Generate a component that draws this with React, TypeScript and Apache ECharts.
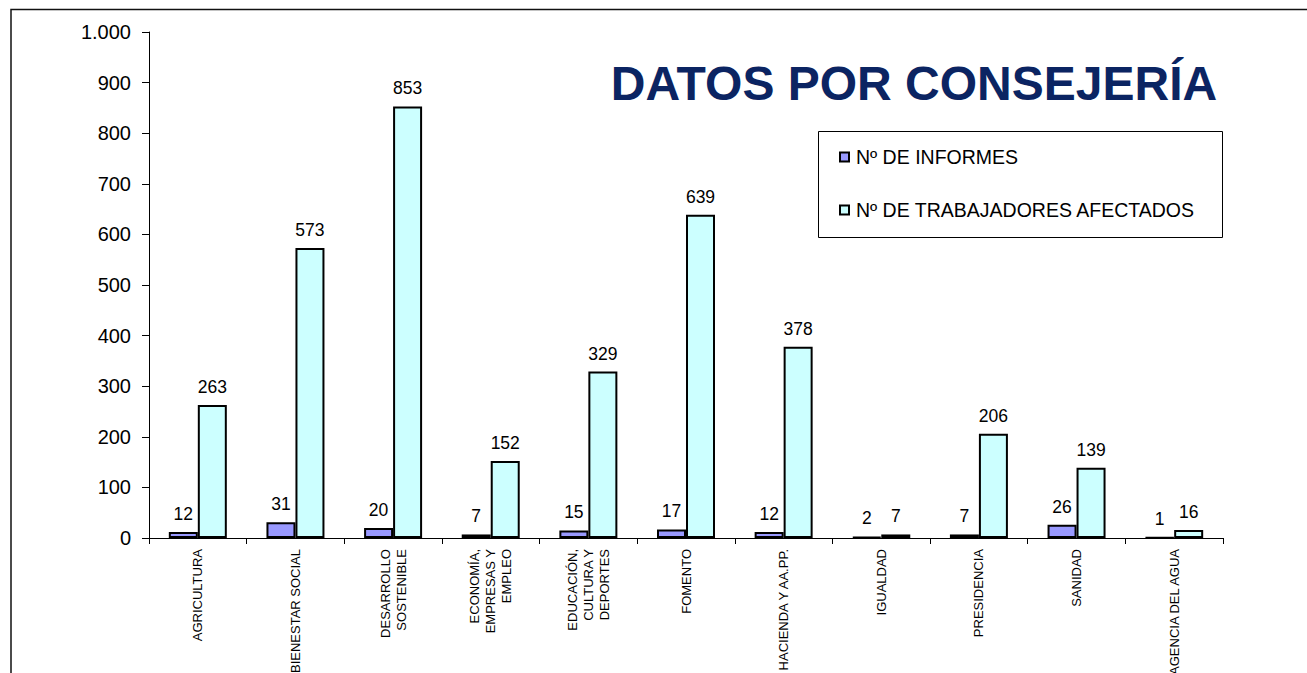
import React, { useEffect, useRef } from "react";
import * as echarts from "echarts";

const categories = [
  "AGRICULTURA",
  "BIENESTAR SOCIAL",
  "DESARROLLO\nSOSTENIBLE",
  "ECONOMÍA,\nEMPRESAS Y\nEMPLEO",
  "EDUCACIÓN,\nCULTURA Y\nDEPORTES",
  "FOMENTO",
  "HACIENDA Y AA.PP.",
  "IGUALDAD",
  "PRESIDENCIA",
  "SANIDAD",
  "AGENCIA DEL AGUA",
];
const informes = [12, 31, 20, 7, 15, 17, 12, 2, 7, 26, 1];
const trabajadores = [263, 573, 853, 152, 329, 639, 378, 7, 206, 139, 16];
const seriesNames = ["Nº DE INFORMES", "Nº DE TRABAJADORES AFECTADOS"];
const titleText = "DATOS POR CONSEJERÍA";

const FONT = "'Liberation Sans', Arial, sans-serif";

export default function App() {
  const ref = useRef<HTMLDivElement>(null);
  useEffect(() => {
    if (!ref.current) return;
    const chart = echarts.init(ref.current, null, { renderer: "svg" });
    const barLabel = {
      show: true,
      position: "top",
      distance: 9,
      color: "#000",
      fontSize: 17.5,
      fontFamily: FONT,
    };
    chart.setOption({
      animation: false,
      backgroundColor: "#fff",
      textStyle: { fontFamily: FONT },
      grid: {
        left: 149,
        right: 84,
        top: 32,
        bottom: 135,
        containLabel: false,
        outerBoundsMode: "none",
      },
      legend: {
        orient: "vertical",
        left: 839,
        top: 147,
        padding: 0,
        itemGap: 33,
        itemWidth: 9,
        itemHeight: 9,
        icon: "rect",
        textStyle: { color: "#000", fontSize: 19.5, lineHeight: 20, fontFamily: FONT, padding: [0, 0, 0, 2] },
        data: seriesNames,
      },
      graphic: [
        {
          type: "rect",
          shape: { x: 11, y: 9.5, width: 1400, height: 800 },
          style: { fill: "none", stroke: "#111", lineWidth: 1.5 },
          silent: true,
        },
        {
          type: "rect",
          shape: { x: 818.5, y: 131.5, width: 404, height: 106 },
          style: { fill: "none", stroke: "#000", lineWidth: 1 },
          silent: true,
        },
        {
          type: "text",
          x: 914,
          y: 83,
          style: {
            text: titleText,
            fill: "#0B2462",
            fontSize: 48,
            fontWeight: "bold",
            fontFamily: FONT,
            textAlign: "center",
            textVerticalAlign: "middle",
          },
        },
      ],
      xAxis: {
        type: "category",
        data: categories,
        axisLine: { lineStyle: { color: "#000", width: 1 } },
        axisTick: { show: true, length: 6, lineStyle: { color: "#000" } },
        axisLabel: {
          interval: 0,
          rotate: 90,
          margin: 11,
          color: "#000",
          fontSize: 13,
          lineHeight: 16,
          fontFamily: FONT,
        },
      },
      yAxis: {
        type: "value",
        min: 0,
        max: 1000,
        interval: 100,
        axisLine: { show: true, lineStyle: { color: "#000", width: 1 } },
        axisTick: { show: true, length: 7, lineStyle: { color: "#000" } },
        splitLine: { show: false },
        axisLabel: {
          margin: 18,
          color: "#000",
          fontSize: 20,
          fontFamily: FONT,
          formatter: (v: number) =>
            v >= 1000 ? Math.floor(v / 1000) + "." + String(v % 1000).padStart(3, "0") : String(v),
        },
      },
      series: [
        {
          name: seriesNames[0],
          type: "bar",
          data: informes,
          barWidth: 29,
          barGap: "0%",
          itemStyle: { color: "#9999FF", borderColor: "#000", borderWidth: 2 },
          label: barLabel,
        },
        {
          name: seriesNames[1],
          type: "bar",
          data: trabajadores,
          barWidth: 29,
          barGap: "0%",
          itemStyle: { color: "#CCFFFF", borderColor: "#000", borderWidth: 2 },
          label: barLabel,
        },
      ],
    });
    return () => chart.dispose();
  }, []);
  return (
    <div
      ref={ref}
      style={{ position: "absolute", left: 0, top: 0, width: 1307, height: 673 }}
    />
  );
}
